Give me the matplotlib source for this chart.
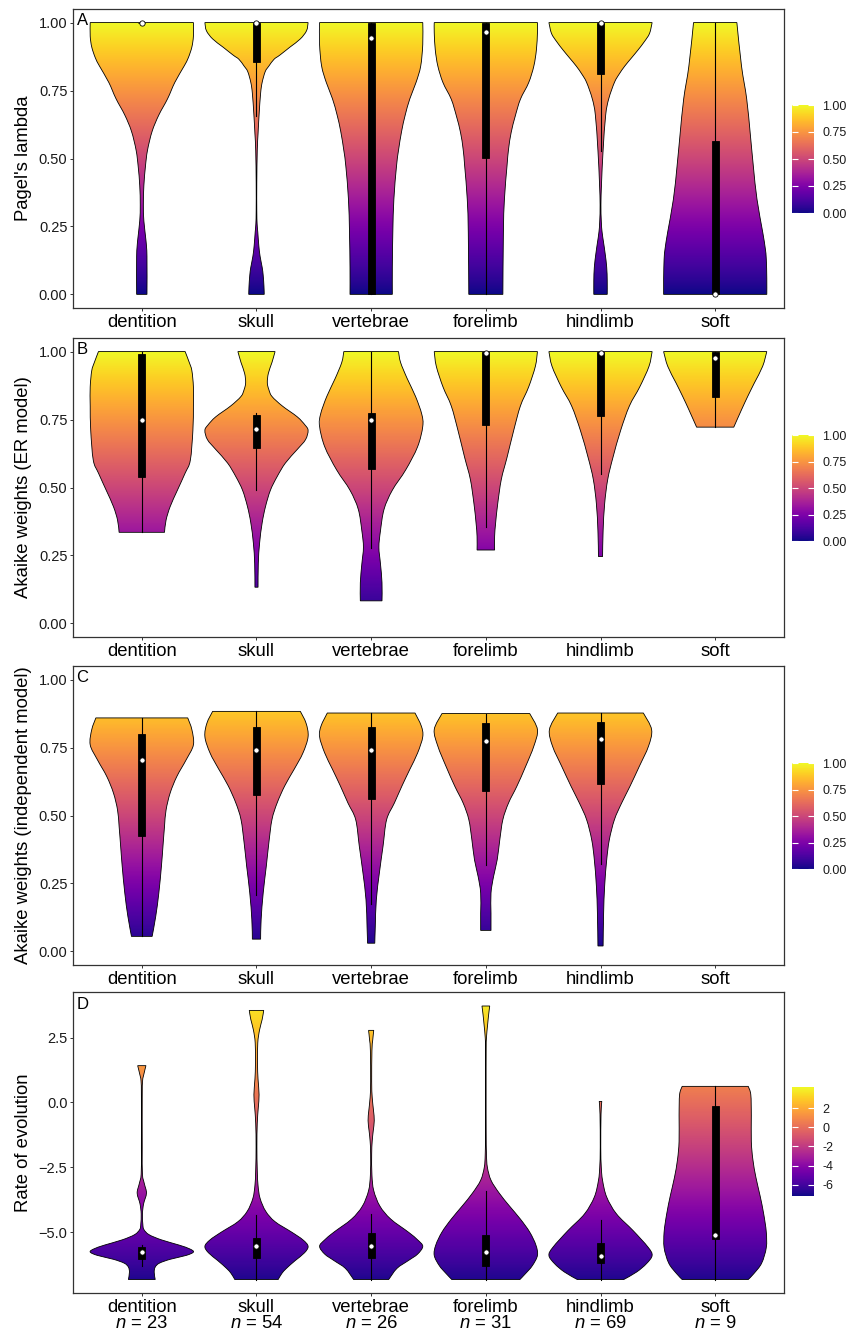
import numpy as np
import matplotlib
matplotlib.use("Agg")
import matplotlib.pyplot as plt
from matplotlib.patches import PathPatch, Rectangle
from matplotlib.path import Path
from matplotlib.colors import Normalize
from matplotlib.cm import ScalarMappable

plt.rcParams['font.family'] = ['Liberation Sans', 'DejaVu Sans']
plt.rcParams['mathtext.fontset'] = 'custom'
plt.rcParams['mathtext.rm'] = 'Liberation Sans'
plt.rcParams['mathtext.it'] = 'Liberation Sans:italic'

# ---- data ----
categories = ["dentition", "skull", "vertebrae", "forelimb", "hindlimb", "soft"]
n_counts = [23, 54, 26, 31, 69, 9]

y_labels = ["Pagel's lambda", "Akaike weights (ER model)",
            "Akaike weights (independent model)", "Rate of evolution"]
panel_letters = ["A", "B", "C", "D"]

# violin outlines: (value, relative half-width), top to bottom
lambda_profiles = {
    "dentition": [(1.0, 1.0), (0.95, 1.0), (0.91, 0.97), (0.87, 0.90), (0.84, 0.82), (0.78, 0.64),
                  (0.72, 0.50), (0.66, 0.33), (0.60, 0.20), (0.53, 0.11), (0.47, 0.07), (0.40, 0.04),
                  (0.33, 0.03), (0.27, 0.04), (0.20, 0.08), (0.14, 0.10), (0.0, 0.10)],
    "skull": [(1.0, 1.0), (0.97, 0.97), (0.94, 0.85), (0.91, 0.65), (0.88, 0.45), (0.865, 0.34),
              (0.84, 0.24), (0.82, 0.17), (0.78, 0.11), (0.74, 0.08), (0.66, 0.05), (0.59, 0.03),
              (0.53, 0.015), (0.41, 0.006), (0.31, 0.006), (0.26, 0.012), (0.23, 0.025), (0.18, 0.045),
              (0.14, 0.07), (0.10, 0.11), (0.07, 0.13), (0.03, 0.145), (0.0, 0.15)],
    "vertebrae": [(1.0, 1.0), (0.92, 1.0), (0.84, 0.96), (0.78, 0.87), (0.72, 0.75), (0.66, 0.66),
                  (0.60, 0.59), (0.53, 0.53), (0.47, 0.49), (0.35, 0.44), (0.23, 0.42), (0.10, 0.41),
                  (0.0, 0.41)],
    "forelimb": [(1.0, 1.0), (0.963, 1.0), (0.90, 0.98), (0.84, 0.93), (0.779, 0.83), (0.718, 0.67),
                 (0.656, 0.57), (0.595, 0.49), (0.534, 0.44), (0.472, 0.41), (0.35, 0.36),
                 (0.227, 0.34), (0.0, 0.33)],
    "hindlimb": [(1.0, 1.0), (0.96, 0.95), (0.93, 0.85), (0.90, 0.73), (0.87, 0.60), (0.84, 0.47),
                 (0.81, 0.36), (0.78, 0.27), (0.72, 0.16), (0.66, 0.10), (0.53, 0.05), (0.41, 0.02),
                 (0.33, 0.008), (0.27, 0.015), (0.23, 0.03), (0.19, 0.06), (0.15, 0.09), (0.10, 0.12),
                 (0.05, 0.13), (0.0, 0.13)],
    "soft": [(1.0, 0.42), (0.84, 0.51), (0.72, 0.61), (0.59, 0.68), (0.47, 0.74), (0.35, 0.81),
             (0.23, 0.92), (0.17, 0.97), (0.13, 0.99), (0.06, 1.0), (0.0, 1.0)],
}
# box stats: (lower whisker, q1, median, q3, upper whisker)
lambda_boxes = {
    "dentition": (1.0, 1.0, 1.0, 1.0, 1.0),
    "skull": (0.656, 0.856, 1.0, 1.0, 1.0),
    "vertebrae": (0.0, 0.0, 0.945, 1.0, 1.0),
    "forelimb": (0.0, 0.503, 0.966, 1.0, 1.0),
    "hindlimb": (0.528, 0.81, 1.0, 1.0, 1.0),
    "soft": (0.0, 0.0, 0.0, 0.564, 1.0),
}

er_profiles = {
    "dentition": [(1.0, 0.84), (0.96, 0.92), (0.93, 0.97), (0.87, 1.0), (0.80, 1.0), (0.71, 0.99),
                  (0.60, 0.94), (0.553, 0.84), (0.49, 0.69), (0.43, 0.55), (0.38, 0.47), (0.335, 0.44)],
    "skull": [(1.0, 0.36), (0.96, 0.30), (0.92, 0.23), (0.885, 0.21), (0.86, 0.24), (0.835, 0.30),
              (0.80, 0.50), (0.76, 0.79), (0.73, 0.94), (0.71, 1.0), (0.676, 0.95), (0.64, 0.79),
              (0.59, 0.56), (0.54, 0.40), (0.49, 0.27), (0.43, 0.175), (0.37, 0.11), (0.295, 0.06),
              (0.22, 0.035), (0.133, 0.03)],
    "vertebrae": [(1.0, 0.53), (0.96, 0.57), (0.90, 0.70), (0.835, 0.86), (0.77, 0.98), (0.725, 1.0),
                  (0.65, 0.90), (0.565, 0.67), (0.49, 0.41), (0.42, 0.25), (0.34, 0.18), (0.28, 0.15),
                  (0.22, 0.18), (0.15, 0.21), (0.083, 0.21)],
    "forelimb": [(1.0, 1.0), (0.946, 0.96), (0.87, 0.83), (0.80, 0.67), (0.71, 0.54), (0.61, 0.41),
                 (0.53, 0.30), (0.44, 0.23), (0.37, 0.19), (0.32, 0.17), (0.27, 0.17)],
    "hindlimb": [(1.0, 1.0), (0.946, 0.94), (0.87, 0.76), (0.80, 0.56), (0.71, 0.39), (0.61, 0.24),
                 (0.53, 0.14), (0.44, 0.08), (0.34, 0.05), (0.246, 0.04)],
    "soft": [(1.0, 1.0), (0.946, 0.92), (0.885, 0.76), (0.835, 0.63), (0.786, 0.51), (0.722, 0.36)],
}
er_boxes = {
    "dentition": (0.335, 0.537, 0.747, 0.99, 1.0),
    "skull": (0.489, 0.647, 0.715, 0.768, 0.775),
    "vertebrae": (0.276, 0.568, 0.749, 0.774, 1.0),
    "forelimb": (0.354, 0.731, 0.993, 1.0, 1.0),
    "hindlimb": (0.549, 0.764, 0.993, 1.0, 1.0),
    "soft": (0.722, 0.832, 0.977, 1.0, 1.0),
}

indep_profiles = {
    "dentition": [(0.859, 0.89), (0.816, 0.97), (0.76, 1.0), (0.705, 0.86), (0.644, 0.68), (0.583, 0.55),
                  (0.52, 0.47), (0.46, 0.44), (0.387, 0.41), (0.313, 0.38), (0.215, 0.33),
                  (0.129, 0.27), (0.055, 0.20)],
    "skull": [(0.883, 0.85), (0.84, 0.96), (0.79, 1.0), (0.73, 0.90), (0.67, 0.73), (0.61, 0.55),
              (0.546, 0.40), (0.485, 0.30), (0.40, 0.24), (0.313, 0.19), (0.215, 0.13), (0.117, 0.09),
              (0.045, 0.08)],
    "vertebrae": [(0.877, 0.85), (0.83, 0.97), (0.79, 1.0), (0.73, 0.90), (0.67, 0.75), (0.61, 0.60),
                  (0.546, 0.45), (0.485, 0.30), (0.387, 0.23), (0.29, 0.16), (0.19, 0.10),
                  (0.092, 0.08), (0.03, 0.07)],
    "forelimb": [(0.875, 0.85), (0.816, 1.0), (0.755, 0.93), (0.68, 0.77), (0.607, 0.60), (0.546, 0.44),
                 (0.485, 0.33), (0.41, 0.27), (0.337, 0.22), (0.276, 0.15), (0.215, 0.10),
                 (0.14, 0.10), (0.077, 0.10)],
    "hindlimb": [(0.877, 0.83), (0.816, 0.99), (0.755, 0.93), (0.68, 0.75), (0.607, 0.57), (0.546, 0.41),
                 (0.485, 0.27), (0.41, 0.17), (0.337, 0.12), (0.24, 0.08), (0.14, 0.06), (0.02, 0.05)],
}
indep_boxes = {
    "dentition": (0.055, 0.423, 0.703, 0.80, 0.859),
    "skull": (0.206, 0.575, 0.74, 0.825, 0.883),
    "vertebrae": (0.174, 0.561, 0.74, 0.825, 0.877),
    "forelimb": (0.319, 0.589, 0.775, 0.84, 0.875),
    "hindlimb": (0.323, 0.616, 0.78, 0.843, 0.877),
}

rate_profiles = {
    "dentition": [(1.42, 0.08), (1.09, 0.04), (0.83, 0.015), (0.19, 0.008), (-1.73, 0.008), (-2.76, 0.012),
                  (-3.14, 0.05), (-3.5, 0.09), (-3.91, 0.035), (-4.3, 0.012), (-4.7, 0.02), (-4.9, 0.04),
                  (-5.1, 0.14), (-5.3, 0.38), (-5.5, 0.72), (-5.65, 0.93), (-5.77, 1.0), (-5.9, 0.86),
                  (-6.05, 0.55), (-6.2, 0.34), (-6.35, 0.26), (-6.55, 0.24), (-6.83, 0.26)],
    "skull": [(3.55, 0.14), (3.2, 0.11), (2.8, 0.06), (2.3, 0.025), (1.5, 0.02), (0.9, 0.03), (0.3, 0.05),
              (-0.2, 0.035), (-0.8, 0.015), (-1.7, 0.008), (-2.6, 0.015), (-3.2, 0.03), (-3.7, 0.07),
              (-4.2, 0.18), (-4.6, 0.36), (-5.0, 0.68), (-5.3, 0.9), (-5.55, 1.0), (-5.8, 0.93),
              (-6.1, 0.75), (-6.4, 0.58), (-6.6, 0.49), (-6.83, 0.42)],
    "vertebrae": [(2.78, 0.05), (2.4, 0.03), (2.0, 0.015), (0.8, 0.01), (0.2, 0.02), (-0.3, 0.045),
                  (-0.7, 0.06), (-1.1, 0.04), (-1.5, 0.02), (-2.0, 0.01), (-2.8, 0.015), (-3.4, 0.05),
                  (-4.0, 0.17), (-4.5, 0.38), (-5.0, 0.72), (-5.3, 0.9), (-5.55, 1.0), (-5.85, 0.9),
                  (-6.1, 0.72), (-6.4, 0.5), (-6.83, 0.34)],
    "forelimb": [(3.72, 0.075), (3.4, 0.055), (3.01, 0.035), (2.5, 0.012), (2.0, 0.006), (0.5, 0.005),
                 (-1.1, 0.006), (-2.0, 0.012), (-2.5, 0.03), (-3.0, 0.1), (-3.5, 0.26), (-4.0, 0.46),
                 (-4.5, 0.67), (-5.0, 0.85), (-5.5, 0.97), (-5.9, 1.0), (-6.3, 0.9), (-6.6, 0.77),
                 (-6.83, 0.66)],
    "hindlimb": [(0.04, 0.025), (-0.45, 0.01), (-1.73, 0.005), (-2.5, 0.015), (-3.01, 0.04),
                 (-3.65, 0.12), (-4.3, 0.31), (-4.94, 0.63), (-5.58, 0.92), (-5.9, 1.0), (-6.22, 0.89),
                 (-6.54, 0.7), (-6.83, 0.45)],
    "soft": [(0.62, 0.64), (0.3, 0.69), (-0.5, 0.70), (-1.5, 0.70), (-2.2, 0.73), (-2.9, 0.79),
             (-3.6, 0.87), (-4.3, 0.94), (-5.0, 0.99), (-5.6, 0.99), (-6.2, 0.9), (-6.6, 0.75),
             (-6.83, 0.64)],
}
rate_boxes = {
    "dentition": (-6.32, -6.03, -5.77, -5.58, -5.49),
    "skull": (-6.83, -6.0, -5.54, -5.22, -4.33),
    "vertebrae": (-6.83, -6.0, -5.54, -5.03, -4.3),
    "forelimb": (-6.83, -6.31, -5.77, -5.13, -3.4),
    "hindlimb": (-6.83, -6.18, -5.91, -5.41, -4.55),
    "soft": (-6.83, -5.26, -5.1, -0.13, 0.62),
}

unit_ticks = [0.0, 0.25, 0.5, 0.75, 1.0]
rate_ticks = [-5.0, -2.5, 0.0, 2.5]
rate_cbar_ticks = [-6, -4, -2, 0, 2]

# ---- layout (pixels of a 850x1331 figure) ----
W, H = 850, 1331
fig = plt.figure(figsize=(W / 100, H / 100), dpi=100)
ax_left, ax_right = 73, 784
panel_rows = [(9, 308), (338, 637), (666, 965), (992, 1293)]
cbar_rows = [(105, 213), (435, 541), (763, 869), (1087, 1196)]
cmap = plt.get_cmap("plasma")
half = 0.45


def px_axes(x0, x1, y0, y1):
    return fig.add_axes([x0 / W, 1 - y1 / H, (x1 - x0) / W, (y1 - y0) / H])


def side_curve(ys, ws):
    # smooth outline through the read points (Catmull-Rom drawn as cubic Beziers)
    pts = np.column_stack([ws, ys])
    n = len(pts)
    out = [pts[0]]
    for i in range(n - 1):
        p0 = pts[max(i - 1, 0)]
        p1, p2 = pts[i], pts[i + 1]
        p3 = pts[min(i + 2, n - 1)]
        c1 = p1 + (p2 - p0) / 6.0
        c2 = p2 - (p3 - p1) / 6.0
        c1[0] = max(c1[0], 0.002)
        c2[0] = max(c2[0], 0.002)
        out += [c1, c2, p2]
    return np.array(out)


def violin_path(c, ys, ws):
    side = side_curve(ys, ws)          # bottom -> top, columns (w, y)
    right = np.column_stack([c + side[:, 0], side[:, 1]])
    left = np.column_stack([c - side[::-1, 0], side[::-1, 1]])
    verts = np.vstack([right, left, right[:1]])
    nseg = (len(side) - 1) // 3
    codes = ([Path.MOVETO] + [Path.CURVE4] * (3 * nseg) +
             [Path.LINETO] + [Path.CURVE4] * (3 * nseg) + [Path.CLOSEPOLY])
    return Path(verts, codes)


def draw_violins(ax, profiles, boxes, norm):
    for i, cat in enumerate(categories):
        if cat not in profiles:
            continue
        c = i + 1
        ys = np.array([p[0] for p in profiles[cat]])[::-1]
        ws = np.array([p[1] for p in profiles[cat]])[::-1] * half
        patch = PathPatch(violin_path(c, ys, ws), facecolor="none", edgecolor="black",
                          lw=0.6, zorder=3)
        ax.add_patch(patch)
        grad = np.linspace(ys.min(), ys.max(), 256).reshape(-1, 1)
        im = ax.imshow(grad, cmap=cmap, norm=norm, origin="lower", aspect="auto",
                       extent=[c - half, c + half, ys.min(), ys.max()],
                       interpolation="bilinear", zorder=2)
        im.set_clip_path(patch)

        lo, q1, med, q3, hi = boxes[cat]
        ax.plot([c, c], [lo, hi], color="black", lw=0.8, zorder=4)
        ax.add_patch(Rectangle((c - 0.03, q1), 0.06, q3 - q1, facecolor="black",
                               edgecolor="black", lw=0.6, zorder=5))
        ax.plot([c], [med], marker="o", ms=3.8, mfc="white", mec="black", mew=0.6, zorder=6)


panels = [
    (lambda_profiles, lambda_boxes, Normalize(0, 1), (-0.05, 1.05)),
    (er_profiles, er_boxes, Normalize(0, 1), (-0.05, 1.05)),
    (indep_profiles, indep_boxes, Normalize(0, 1), (-0.05, 1.05)),
    (rate_profiles, rate_boxes, Normalize(-7.15, 4.19), (-7.35, 4.26)),
]

for k, (profiles, boxes, norm, ylim) in enumerate(panels):
    top, bot = panel_rows[k]
    ax = px_axes(ax_left, ax_right, top, bot)
    draw_violins(ax, profiles, boxes, norm)
    ax.set_xlim(0.4, 6.6)
    ax.set_ylim(*ylim)
    ax.set_xticks(range(1, 7))
    if k == 3:
        ax.set_xticklabels([f"{c}\n$n$ = {n}" for c, n in zip(categories, n_counts)],
                           fontsize=13.3, linespacing=0.95)
        ax.set_yticks(rate_ticks)
        ax.set_yticklabels([f"{t:.1f}".replace("-", "\u2212") for t in rate_ticks])
    else:
        ax.set_xticklabels(categories, fontsize=13.3)
        ax.set_yticks(unit_ticks)
        ax.set_yticklabels([f"{t:.2f}" for t in unit_ticks])
    ax.tick_params(axis="both", length=2.5, width=0.7, color="#333333", pad=1.5)
    ax.tick_params(axis="y", labelsize=10.5, labelcolor="#1a1a1a")
    ax.tick_params(axis="x", labelcolor="black")
    for s in ax.spines.values():
        s.set_linewidth(0.9)
        s.set_color("#333333")
    ax.set_ylabel(y_labels[k], fontsize=13.3)
    ax.yaxis.set_label_coords(-0.057, 0.5)
    ax.text(0.005, 0.985, panel_letters[k], transform=ax.transAxes, ha="left", va="top",
            fontsize=12)

    # colour bar
    ct, cb = cbar_rows[k]
    cax = px_axes(792, 814, ct, cb)
    cbar = fig.colorbar(ScalarMappable(norm=norm, cmap=cmap), cax=cax)
    cbar.outline.set_visible(False)
    cbar.minorticks_off()
    if k == 3:
        cbar.set_ticks(rate_cbar_ticks)
        cbar.set_ticklabels([str(t) for t in rate_cbar_ticks])
    else:
        cbar.set_ticks(unit_ticks)
        cbar.set_ticklabels([f"{t:.2f}" for t in unit_ticks])
    cax.yaxis.set_ticks_position("both")
    cax.tick_params(which="both", direction="in", length=4, width=0.8, color="white",
                    labelsize=9, labelcolor="#1a1a1a", pad=6, labelleft=False, labelright=True)

fig.savefig("out.png", dpi=100)
